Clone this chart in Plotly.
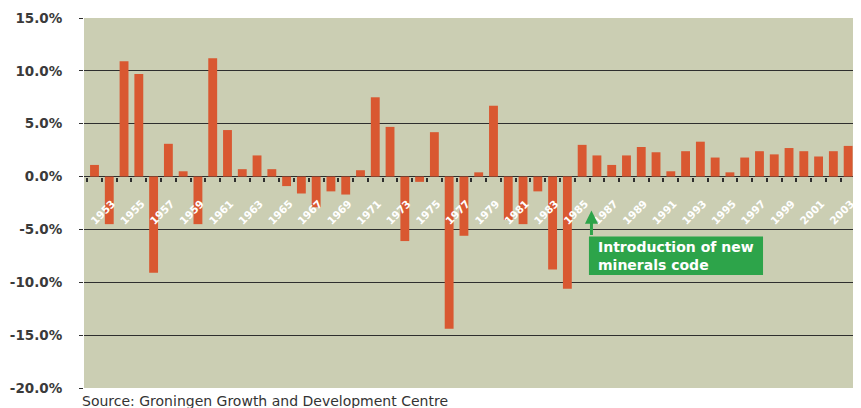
import plotly.graph_objects as go

# ---- data ----
years = list(range(1952, 2005))
growth = [1.1, -4.5, 10.9, 9.7, -9.1, 3.1, 0.5, -4.5, 11.2, 4.4,
          0.7, 2.0, 0.7, -0.9, -1.6, -2.9, -1.4, -1.7, 0.6, 7.5,
          4.7, -6.1, -0.5, 4.2, -14.4, -5.6, 0.4, 6.7, -4.1, -4.5,
          -1.4, -8.8, -10.6, 3.0, 2.0, 1.1, 2.0, 2.8, 2.3, 0.5,
          2.4, 3.3, 1.8, 0.4, 1.8, 2.4, 2.1, 2.7, 2.4, 1.9,
          2.4, 2.9, 3.7]
label_years = list(range(1953, 2004, 2))
label_text = [str(y) for y in label_years]
boundary_ticks = [y - 0.5 for y in years] + [years[-1] + 0.5]
y_ticks = [15, 10, 5, 0, -5, -10, -15, -20]
y_tick_text = ["15.0%", "10.0%", "5.0%", "0.0%", "-5.0%", "-10.0%", "-15.0%", "-20.0%"]

note_text = "Introduction of new<br>minerals code"
source_text = "Source: Groningen Growth and Development Centre"

BAR = "#d95831"
BG = "#cbceb3"
GRID = "#2e2e2e"
GREEN = "#2da44a"

fig = go.Figure()
fig.add_trace(go.Bar(x=years, y=growth, width=0.6,
                     marker=dict(color=BAR, line=dict(width=0)),
                     hoverinfo="x+y"))

# page body has an 8px margin: size the figure so the plot lands where the reference has it
fig.update_layout(
    width=853, height=400,
    margin=dict(l=76, r=0, t=10, b=20),
    plot_bgcolor=BG, paper_bgcolor="white",
    showlegend=False, bargap=0.4,
    xaxis=dict(
        range=[1951.29, 2003.87],
        showgrid=False, zeroline=False, showline=False,
        anchor="free", position=20 / 35,
        tickmode="array", tickvals=label_years, ticktext=label_text,
        tickangle=-45, ticks="",
        tickfont=dict(family="DejaVu Sans", size=10.5, color="white", weight="bold"),
        ticklabelstandoff=18, ticklabelshift=3,
        minor=dict(tickmode="array", tickvals=boundary_ticks, ticks="outside",
                   ticklen=4, tickwidth=1.5, tickcolor=GRID, showgrid=False),
    ),
    yaxis=dict(
        range=[-20, 15],
        tickmode="array", tickvals=y_ticks, ticktext=y_tick_text,
        showgrid=True, gridcolor=GRID, gridwidth=1.3,
        zeroline=False, showline=False,
        ticks="outside", ticklen=4, tickwidth=1.3, tickcolor=GRID,
        tickfont=dict(family="DejaVu Sans", size=13.5, color="#3a3a3a", weight="bold"),
        ticklabelstandoff=14,
    ),
)

# green note box
fig.add_shape(type="rect", xref="x", yref="y",
              x0=1985.46, x1=1997.24, y0=-9.32, y1=-5.66,
              fillcolor=GREEN, line=dict(width=0), layer="above")
fig.add_annotation(x=1985.92, y=-7.49, xref="x", yref="y", text=note_text,
                   showarrow=False, xanchor="left", yanchor="middle", align="left",
                   font=dict(family="DejaVu Sans", size=14, color="white", weight="bold"))
fig.add_annotation(x=1985.63, y=-3.22, ax=1985.63, ay=-5.66, axref="x", ayref="y",
                   xref="x", yref="y", text="", showarrow=True,
                   arrowhead=2, arrowwidth=3, arrowsize=0.87, arrowcolor=GREEN)

fig.add_annotation(x=-0.005, y=-0.035, xref="paper", yref="paper",
                   text=source_text, showarrow=False, xanchor="left", yanchor="middle",
                   font=dict(family="DejaVu Sans", size=14, color="#333333"))

fig.write_html("out.html")
